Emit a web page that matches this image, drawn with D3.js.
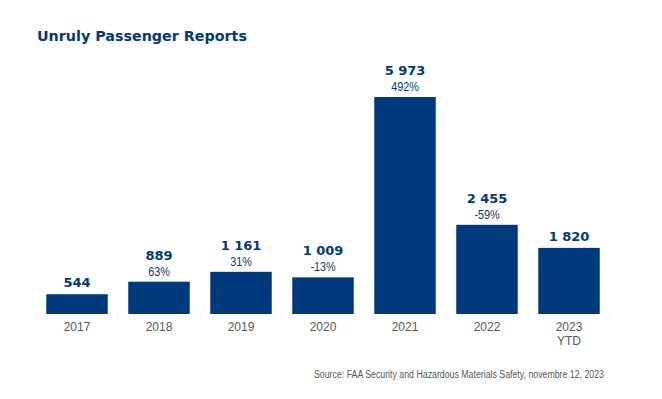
<!DOCTYPE html>
<html>
<head>
<meta charset="utf-8">
<script src="https://cdn.jsdelivr.net/npm/d3@7"></script>
<style>
    body { margin: 0; background: #fff; }
    text { font-family: "Liberation Sans", Arial, sans-serif; }
    .heavy { font-family: "DejaVu Sans", Verdana, sans-serif; font-weight: bold; }
</style>
</head>
<body>
<svg id="chart" width="662" height="399"></svg>
<script>
// data
const years = ["2017", "2018", "2019", "2020", "2021", "2022", "2023"];
const subLabels = ["", "", "", "", "", "", "YTD"];
const reports = [544, 889, 1161, 1009, 5973, 2455, 1820];
const changes = [null, "63%", "31%", "-13%", "492%", "-59%", null];

const BLUE = "#003a7c";
const GREY = "#595959";
const width = 662, height = 399;
const margin = { left: 36, right: 52, top: 97, bottom: 85 };

const svg = d3.select("#chart");

const x = d3.scaleBand()
            .domain(years)
            .range([margin.left, width - margin.right])
            .paddingInner(0.25)
            .paddingOuter(0.125);
const y = d3.scaleLinear()
            .domain([0, d3.max(reports)])
            .range([height - margin.bottom, margin.top]);
const cx = (i) => x(years[i]) + x.bandwidth() / 2;

// title
svg.append("text")
   .attr("class", "heavy")
   .attr("x", 37)
   .attr("y", 41)
   .style("font-size", "14.3px")
   .style("fill", BLUE)
   .text("Unruly Passenger Reports");

// faint category separators below baseline
const step = x.step();
const bounds = years.map((d) => x(d) - x.paddingInner() * step / 2).concat([x(years[6]) + x.bandwidth() + x.paddingInner() * step / 2]);
svg.append("g")
   .selectAll("line")
   .data(bounds)
   .join("line")
   .attr("x1", (d) => d)
   .attr("x2", (d) => d)
   .attr("y1", y(0))
   .attr("y2", y(0) + 5)
   .style("stroke", "#eeeeee")
   .style("stroke-width", 1);

// bars
svg.append("g")
   .selectAll("rect")
   .data(reports)
   .join("rect")
   .attr("x", (d, i) => x(years[i]))
   .attr("y", (d) => y(d))
   .attr("width", x.bandwidth())
   .attr("height", (d) => y(0) - y(d))
   .style("fill", BLUE);

// value labels
const fmt = (v) => d3.format(",")(v).replace(",", " ");
svg.append("g")
   .selectAll("text")
   .data(reports)
   .join("text")
   .attr("class", "heavy")
   .attr("x", (d, i) => cx(i))
   .attr("y", (d, i) => y(d) - (changes[i] ? 22 : 7))
   .attr("text-anchor", "middle")
   .style("font-size", "13px")
   .style("fill", BLUE)
   .text(fmt);

// change labels (slightly condensed)
svg.append("g")
   .selectAll("text")
   .data(reports)
   .join("text")
   .attr("transform", (d, i) => "translate(" + cx(i) + "," + (y(d) - 6) + ") scale(0.9,1)")
   .attr("text-anchor", "middle")
   .style("font-size", "12px")
   .style("fill", BLUE)
   .text((d, i) => changes[i] || "");

// category labels
const xLabels = svg.append("g")
                   .selectAll("text")
                   .data(years)
                   .join("text")
                   .attr("x", (d, i) => cx(i))
                   .attr("y", y(0) + 17)
                   .attr("text-anchor", "middle")
                   .style("font-size", "12px")
                   .style("fill", GREY);
xLabels.append("tspan")
       .text((d) => d);
xLabels.append("tspan")
       .attr("x", (d, i) => cx(i))
       .attr("dy", 14)
       .text((d, i) => subLabels[i]);

// source note
svg.append("text")
   .attr("x", 604)
   .attr("y", 378)
   .attr("text-anchor", "end")
   .attr("textLength", 290)
   .attr("lengthAdjust", "spacingAndGlyphs")
   .style("font-size", "10px")
   .style("fill", GREY)
   .text("Source: FAA Security and Hazardous Materials Safety, novembre 12, 2023");
</script>
</body>
</html>
